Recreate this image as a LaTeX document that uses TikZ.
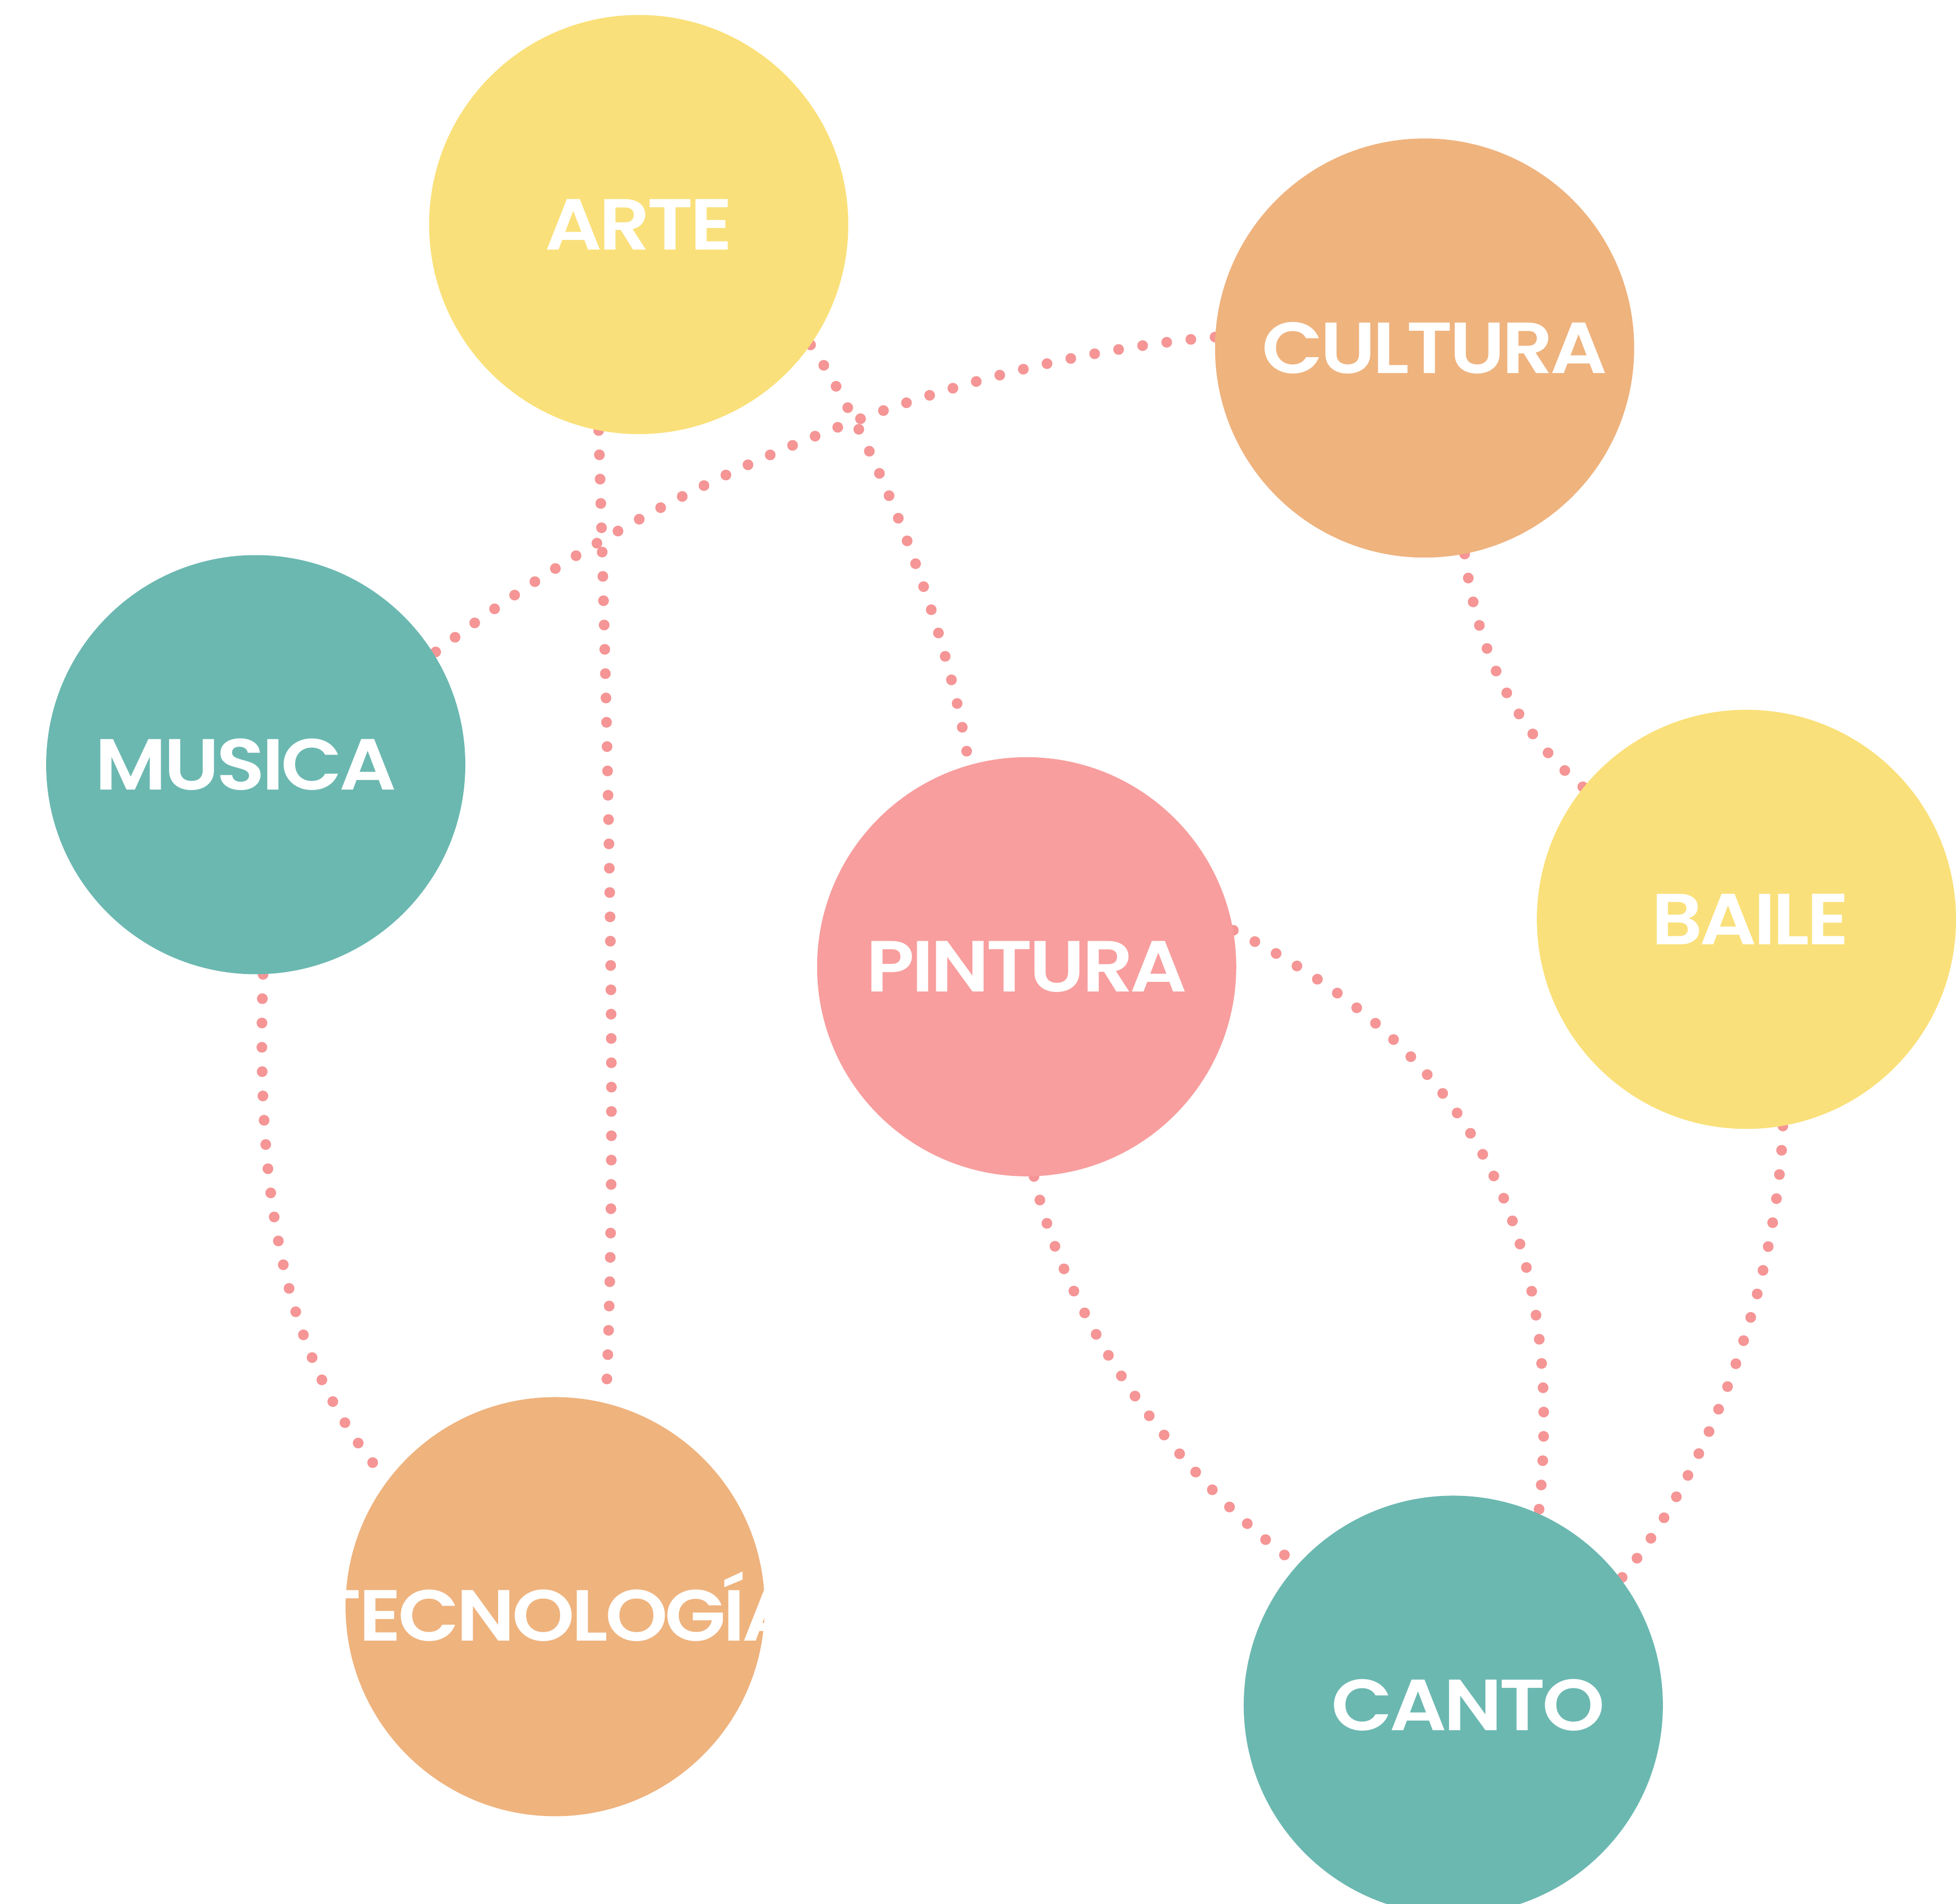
\documentclass[tikz,border=0pt]{standalone}
\usepackage{fontspec}
\setmainfont{Poppins}
\newfontfamily\popsb{Poppins SemiBold}[FakeStretch=1.1,LetterSpace=-4]
\usetikzlibrary{backgrounds}
\definecolor{cyellow}{HTML}{FAE07A}
\definecolor{corange}{HTML}{EFB37E}
\definecolor{cteal}{HTML}{6BB8B1}
\definecolor{cpink}{HTML}{F89E9E}
\definecolor{cdot}{HTML}{F59595}
\begin{document}
\begin{tikzpicture}[x=1pt,y=-1pt,
  bubble/.style={circle,minimum size=336pt,inner sep=0pt,text=white,
    font=\popsb\fontsize{58}{60}\selectfont},
  dots/.style={draw=cdot,line width=8.6pt,line cap=round,dash pattern=on 0pt off 19.5pt}]
\useasboundingbox (0,0) rectangle (1568,1526);
\node[bubble,fill=cyellow] (arte) at (512,180) {\makebox[0pt]{ARTE}};
\node[bubble,fill=corange] (cultura) at (1142,279) {\makebox[0pt]{\hspace*{16pt}CULTURA}};
\node[bubble,fill=cteal] (musica) at (205,613) {\makebox[0pt]{MUSICA\hspace*{16pt}}};
\node[bubble,fill=cpink] (pintura) at (823,775) {\makebox[0pt]{PINTURA}};
\node[bubble,fill=cyellow] (baile) at (1400,737) {\makebox[0pt]{\hspace*{6pt}BAILE}};
\node[bubble,fill=corange] (tecno) at (445,1288) {\makebox[0pt]{\hspace*{4pt}TECNOLOGÍA}};
\node[bubble,fill=cteal] (canto) at (1165,1367) {\makebox[0pt]{\hspace*{24pt}CANTO}};
\begin{scope}[on background layer]
\draw[dots] (cultura.177) .. controls (800,285) and (560,360) .. (musica.32);
\draw[dots] (arte.-35) .. controls (700,350) and (760,500) .. (pintura.106);
\draw[dots] (arte.259) .. controls (486,550) and (496,900) .. (tecno.76);
\draw[dots] (musica.272) .. controls (205,950) and (225,1090) .. (tecno.143);
\draw[dots] (cultura.281) .. controls (1185,530) and (1220,590) .. (baile.141);
\draw[dots] (pintura.10) .. controls (1155,830) and (1260,960) .. (canto.66);
\draw[dots] (pintura.272) .. controls (855,1060) and (940,1180) .. (canto.138);
\draw[dots] (baile.280) .. controls (1425,1030) and (1370,1180) .. (canto.37);
\end{scope}
\end{tikzpicture}
\end{document}
